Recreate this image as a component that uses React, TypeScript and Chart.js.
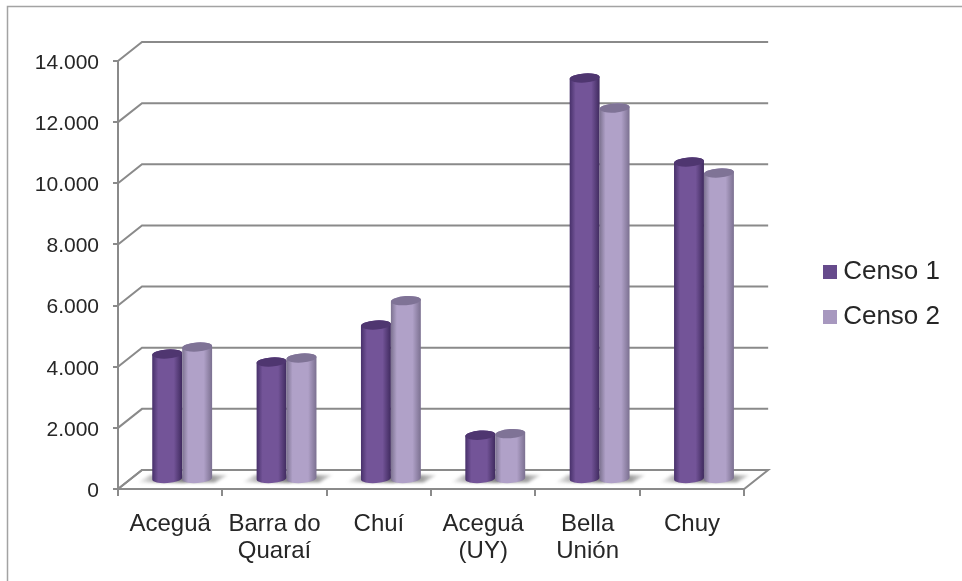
import React, { useEffect, useRef } from "react";
import { Chart, registerables } from "chart.js";

Chart.register(...registerables);

const categories = ["Aceguá", ["Barra do", "Quaraí"], "Chuí", ["Aceguá", "(UY)"], ["Bella", "Unión"], "Chuy"];
const censo1 = [4105, 3843, 5054, 1450, 13134, 10386];
const censo2 = [4334, 3975, 5850, 1500, 12150, 10025];

const FONT = "'Liberation Sans', Arial, sans-serif";
const TEXT = "#262626";
const AXIS = "#8a8a8a";
const DX = 24;
const DY = -19;

const palette = [
  { flat: "#664b8c", edgeL: "#47306a", mid: "#735498", edgeR: "#3f2a5e", top: "#4f3670" },
  { flat: "#a798bf", edgeL: "#7c7290", mid: "#b0a1c8", edgeR: "#7b7090", top: "#7f7396" },
];

function swatch(color: string) {
  const c = document.createElement("canvas");
  c.width = 14;
  c.height = 14;
  const g = c.getContext("2d")!;
  g.fillStyle = color;
  g.fillRect(0, 0, 14, 14);
  return c;
}

const cylinders = {
  id: "cylinders",
  beforeDatasetDraw() {
    return false;
  },
  beforeDatasetsDraw(chart: any) {
    const { ctx, chartArea, scales } = chart;
    const { left, right, bottom } = chartArea;
    const y = scales.y;
    ctx.save();
    ctx.lineCap = "butt";
    ctx.lineJoin = "miter";
    const stroke = (pts: number[][], color = AXIS, w = 2) => {
      ctx.beginPath();
      pts.forEach((p, i) => (i ? ctx.lineTo(p[0], p[1]) : ctx.moveTo(p[0], p[1])));
      ctx.strokeStyle = color;
      ctx.lineWidth = w;
      ctx.stroke();
    };
    // outer frame
    stroke([[7.5, chart.height], [7.5, 6.5], [chart.width, 6.5]], "#a3a3a3", 1.5);
    // walls
    y.ticks.forEach((t: any) => {
      const py = y.getPixelForValue(t.value);
      stroke([[left, py], [left + DX, py + DY], [right + DX, py + DY]]);
    });
    // floor
    stroke([[left, bottom], [right, bottom], [right + DX, bottom + DY], [left + DX, bottom + DY], [left, bottom]]);
    // floor shadows
    chart.data.datasets.forEach((_: any, d: number) => {
      chart.getDatasetMeta(d).data.forEach((bar: any) => {
        const x = bar.x + DX / 2;
        const b = bar.base + DY / 2;
        const w = bar.width / 2;
        const sg = ctx.createLinearGradient(x - w - 15, 0, x + w + 16, 0);
        sg.addColorStop(0, "rgba(90,90,90,0)");
        sg.addColorStop(0.35, "rgba(90,90,90,0.6)");
        sg.addColorStop(0.75, "rgba(90,90,90,0.6)");
        sg.addColorStop(1, "rgba(90,90,90,0.15)");
        ctx.save();
        ctx.filter = "blur(1.5px)";
        ctx.fillStyle = sg;
        ctx.beginPath();
        ctx.moveTo(x - w - 15, b + 4);
        ctx.lineTo(x + w + 3, b + 4);
        ctx.lineTo(x + w + 16, b - 3.5);
        ctx.lineTo(x - w - 2, b - 3.5);
        ctx.closePath();
        ctx.fill();
        ctx.restore();
      });
    });
    // cylinders
    const RY = 4.6;
    const TILT = -0.07;
    chart.data.datasets.forEach((_: any, d: number) => {
      chart.getDatasetMeta(d).data.forEach((bar: any) => {
        const c = palette[d];
        const cx = bar.x + DX / 2;
        const topY = bar.y + DY / 2;
        const baseY = bar.base + DY / 2;
        const rx = bar.width / 2;
        const g = ctx.createLinearGradient(cx - rx, 0, cx + rx, 0);
        g.addColorStop(0, c.edgeL);
        g.addColorStop(0.2, c.mid);
        g.addColorStop(0.72, c.mid);
        g.addColorStop(1, c.edgeR);
        ctx.beginPath();
        ctx.ellipse(cx, baseY, rx, RY, TILT, 0, Math.PI);
        ctx.lineTo(cx - rx, topY);
        ctx.ellipse(cx, topY, rx, RY, TILT, Math.PI, 2 * Math.PI);
        ctx.lineTo(cx + rx, baseY);
        ctx.closePath();
        ctx.fillStyle = g;
        ctx.fill();
        ctx.beginPath();
        ctx.ellipse(cx, topY, rx, RY, TILT, 0, 2 * Math.PI);
        ctx.fillStyle = c.top;
        ctx.fill();
      });
    });
    ctx.restore();
  },
};

export default function App() {
  const ref = useRef<HTMLCanvasElement>(null);
  useEffect(() => {
    const chart = new Chart(ref.current!, {
      type: "bar",
      plugins: [cylinders],
      data: {
        labels: categories as any,
        datasets: [
          { label: "Censo 1", data: censo1, backgroundColor: palette[0].flat, categoryPercentage: 0.574, barPercentage: 1 },
          { label: "Censo 2", data: censo2, backgroundColor: palette[1].flat, categoryPercentage: 0.574, barPercentage: 1 },
        ],
      },
      options: {
        animation: false,
        responsive: false,
        layout: { autoPadding: false, padding: { top: 7, right: 12, bottom: 0, left: 0 } },
        plugins: {
          tooltip: { enabled: false },
          legend: {
            position: "right",
            labels: {
              usePointStyle: true,
              pointStyleWidth: 1,
              boxHeight: 14,
              padding: 19,
              color: TEXT,
              font: { family: FONT, size: 26 },
              generateLabels(c: any) {
                return (Chart.defaults.plugins.legend.labels.generateLabels as any)(c).map((l: any, i: number) => ({
                  ...l,
                  pointStyle: swatch(palette[i].flat),
                }));
              },
            },
          },
        },
        scales: {
          x: {
            grid: { drawOnChartArea: false, color: AXIS, lineWidth: 2, tickLength: 7, offset: true },
            border: { color: AXIS, width: 2 },
            ticks: { color: TEXT, font: { family: FONT, size: 24, lineHeight: 1.13 }, maxRotation: 0, autoSkip: false, padding: 15 },
            afterFit(s: any) { s.height = 92; },
          },
          y: {
            min: 0,
            max: 14000,
            grid: { drawOnChartArea: false, color: AXIS, lineWidth: 2, tickLength: 5 },
            border: { color: AXIS, width: 2 },
            ticks: {
              stepSize: 2000,
              padding: 14,
              labelOffset: 2,
              color: TEXT,
              font: { family: FONT, size: 21 },
              callback: (v: any) => Number(v).toLocaleString("de-DE"),
            },
            afterFit(s: any) { s.width = 118; },
          },
          gapTop: {
            type: "linear",
            axis: "x",
            position: "top",
            display: true,
            grid: { display: false },
            border: { display: false },
            ticks: { display: false },
            afterFit(s: any) { s.height = 54; },
          },
          gapRight: {
            type: "linear",
            axis: "y",
            position: "right",
            display: true,
            grid: { display: false },
            border: { display: false },
            ticks: { display: false },
            afterFit(s: any) { s.width = 66; },
          },
        },
      } as any,
    });
    return () => chart.destroy();
  }, []);
  return (
    <canvas
      ref={ref}
      width={962}
      height={581}
      style={{ position: "fixed", left: 0, top: 0, width: 962, height: 581, background: "#fff" }}
    />
  );
}
